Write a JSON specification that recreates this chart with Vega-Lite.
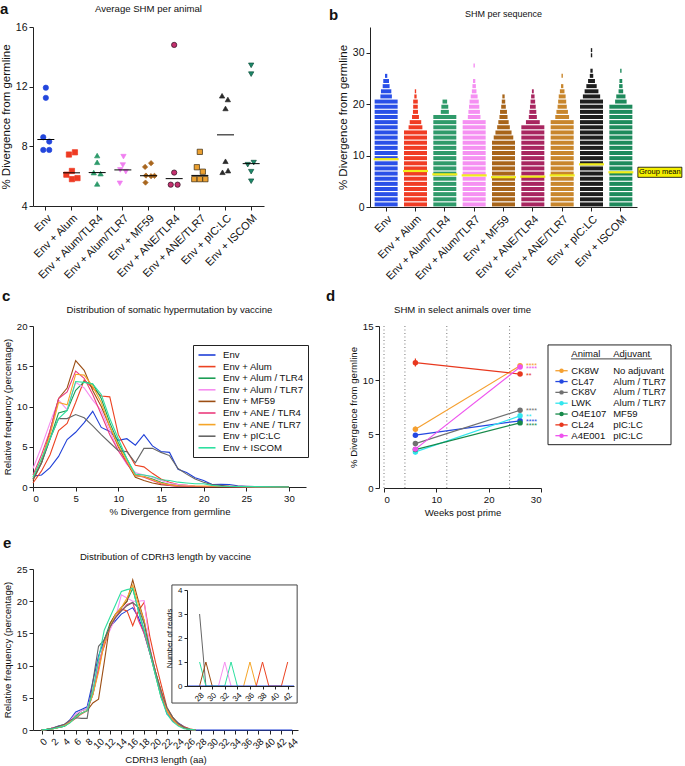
{
"$schema":"https://vega.github.io/schema/vega-lite/v6.json",
"padding":{"left":0,"top":2,"right":0,"bottom":2},
"background":"#ffffff",
"datasets":{
"A":[
{"g":"Env","v":11.93,"s":0},{"g":"Env","v":11.25,"s":0},{"g":"Env","v":8.61,"s":-0.6},{"g":"Env","v":8.32,"s":0.8},{"g":"Env","v":7.76,"s":-0.6},{"g":"Env","v":7.76,"s":0.8},
{"g":"Env + Alum","v":7.45,"s":-0.6},{"g":"Env + Alum","v":7.6,"s":0.8},{"g":"Env + Alum","v":6.35,"s":0.1},{"g":"Env + Alum","v":6.1,"s":-1.2},{"g":"Env + Alum","v":5.8,"s":0.1},{"g":"Env + Alum","v":5.87,"s":1.4},
{"g":"Env + Alum/TLR4","v":7.38,"s":0},{"g":"Env + Alum/TLR4","v":6.93,"s":0},{"g":"Env + Alum/TLR4","v":6.24,"s":-0.8},{"g":"Env + Alum/TLR4","v":6.17,"s":0.8},{"g":"Env + Alum/TLR4","v":5.48,"s":0},
{"g":"Env + Alum/TLR7","v":7.31,"s":0.15},{"g":"Env + Alum/TLR7","v":6.75,"s":0},{"g":"Env + Alum/TLR7","v":6.42,"s":-0.6},{"g":"Env + Alum/TLR7","v":6.3,"s":0.7},{"g":"Env + Alum/TLR7","v":5.52,"s":-0.7},
{"g":"Env + MF59","v":6.87,"s":0.6},{"g":"Env + MF59","v":6.62,"s":-0.8},{"g":"Env + MF59","v":6.04,"s":-0.6},{"g":"Env + MF59","v":6.0,"s":0.6},{"g":"Env + MF59","v":6.02,"s":1.4},{"g":"Env + MF59","v":5.57,"s":-0.7},
{"g":"Env + ANE/TLR4","v":14.8,"s":0},{"g":"Env + ANE/TLR4","v":6.24,"s":0},{"g":"Env + ANE/TLR4","v":5.43,"s":-0.8},{"g":"Env + ANE/TLR4","v":5.43,"s":0.8},
{"g":"Env + ANE/TLR7","v":7.63,"s":0},{"g":"Env + ANE/TLR7","v":6.6,"s":-0.7},{"g":"Env + ANE/TLR7","v":6.3,"s":0.7},{"g":"Env + ANE/TLR7","v":5.8,"s":-1.3},{"g":"Env + ANE/TLR7","v":5.8,"s":0},{"g":"Env + ANE/TLR7","v":5.8,"s":1.3},
{"g":"Env + pIC:LC","v":11.39,"s":-0.8},{"g":"Env + pIC:LC","v":11.14,"s":0.55},{"g":"Env + pIC:LC","v":10.54,"s":0},{"g":"Env + pIC:LC","v":7.0,"s":0},{"g":"Env + pIC:LC","v":6.26,"s":-0.7},{"g":"Env + pIC:LC","v":6.37,"s":0.6},
{"g":"Env + ISCOM","v":13.43,"s":0},{"g":"Env + ISCOM","v":12.84,"s":0},{"g":"Env + ISCOM","v":6.77,"s":-0.8},{"g":"Env + ISCOM","v":6.91,"s":0.6},{"g":"Env + ISCOM","v":6.3,"s":0},{"g":"Env + ISCOM","v":5.66,"s":0}
],
"B":[
{"g":"Env","y":0.5,"n":1},{"g":"Env","y":1.5,"n":1},{"g":"Env","y":2.5,"n":1},{"g":"Env","y":3.5,"n":1},{"g":"Env","y":4.5,"n":1},{"g":"Env","y":5.5,"n":1},{"g":"Env","y":6.5,"n":1},{"g":"Env","y":7.5,"n":1},{"g":"Env","y":8.5,"n":1},{"g":"Env","y":9.5,"n":1},{"g":"Env","y":10.5,"n":1},{"g":"Env","y":11.5,"n":1},{"g":"Env","y":12.5,"n":1},{"g":"Env","y":13.5,"n":1},{"g":"Env","y":14.5,"n":1},{"g":"Env","y":15.5,"n":1},{"g":"Env","y":16.5,"n":1},{"g":"Env","y":17.5,"n":1},{"g":"Env","y":18.5,"n":1},{"g":"Env","y":19.5,"n":1},{"g":"Env","y":20.5,"n":1},{"g":"Env","y":21.5,"n":0.5},{"g":"Env","y":22.5,"n":0.45},{"g":"Env","y":23.5,"n":0.3},{"g":"Env","y":24.5,"n":0.25},{"g":"Env","y":25.5,"n":0.1},
{"g":"Env + Alum","y":0.5,"n":1},{"g":"Env + Alum","y":1.5,"n":1},{"g":"Env + Alum","y":2.5,"n":1},{"g":"Env + Alum","y":3.5,"n":1},{"g":"Env + Alum","y":4.5,"n":1},{"g":"Env + Alum","y":5.5,"n":1},{"g":"Env + Alum","y":6.5,"n":1},{"g":"Env + Alum","y":7.5,"n":1},{"g":"Env + Alum","y":8.5,"n":1},{"g":"Env + Alum","y":9.5,"n":1},{"g":"Env + Alum","y":10.5,"n":1},{"g":"Env + Alum","y":11.5,"n":1},{"g":"Env + Alum","y":12.5,"n":1},{"g":"Env + Alum","y":13.5,"n":1},{"g":"Env + Alum","y":14.5,"n":1},{"g":"Env + Alum","y":15.5,"n":0.6},{"g":"Env + Alum","y":16.5,"n":0.5},{"g":"Env + Alum","y":17.5,"n":0.3},{"g":"Env + Alum","y":18.5,"n":0.22},{"g":"Env + Alum","y":19.5,"n":0.2},{"g":"Env + Alum","y":20.5,"n":0.2},{"g":"Env + Alum","y":21.5,"n":0.1},{"g":"Env + Alum","y":22.5,"n":0.06},
{"g":"Env + Alum/TLR4","y":0.5,"n":1},{"g":"Env + Alum/TLR4","y":1.5,"n":1},{"g":"Env + Alum/TLR4","y":2.5,"n":1},{"g":"Env + Alum/TLR4","y":3.5,"n":1},{"g":"Env + Alum/TLR4","y":4.5,"n":1},{"g":"Env + Alum/TLR4","y":5.5,"n":1},{"g":"Env + Alum/TLR4","y":6.5,"n":1},{"g":"Env + Alum/TLR4","y":7.5,"n":1},{"g":"Env + Alum/TLR4","y":8.5,"n":1},{"g":"Env + Alum/TLR4","y":9.5,"n":1},{"g":"Env + Alum/TLR4","y":10.5,"n":1},{"g":"Env + Alum/TLR4","y":11.5,"n":1},{"g":"Env + Alum/TLR4","y":12.5,"n":1},{"g":"Env + Alum/TLR4","y":13.5,"n":1},{"g":"Env + Alum/TLR4","y":14.5,"n":1},{"g":"Env + Alum/TLR4","y":15.5,"n":1},{"g":"Env + Alum/TLR4","y":16.5,"n":1},{"g":"Env + Alum/TLR4","y":17.5,"n":1},{"g":"Env + Alum/TLR4","y":18.5,"n":0.35},{"g":"Env + Alum/TLR4","y":19.5,"n":0.3},{"g":"Env + Alum/TLR4","y":20.5,"n":0.2},
{"g":"Env + Alum/TLR7","y":0.5,"n":1},{"g":"Env + Alum/TLR7","y":1.5,"n":1},{"g":"Env + Alum/TLR7","y":2.5,"n":1},{"g":"Env + Alum/TLR7","y":3.5,"n":1},{"g":"Env + Alum/TLR7","y":4.5,"n":1},{"g":"Env + Alum/TLR7","y":5.5,"n":1},{"g":"Env + Alum/TLR7","y":6.5,"n":1},{"g":"Env + Alum/TLR7","y":7.5,"n":1},{"g":"Env + Alum/TLR7","y":8.5,"n":1},{"g":"Env + Alum/TLR7","y":9.5,"n":1},{"g":"Env + Alum/TLR7","y":10.5,"n":1},{"g":"Env + Alum/TLR7","y":11.5,"n":1},{"g":"Env + Alum/TLR7","y":12.5,"n":1},{"g":"Env + Alum/TLR7","y":13.5,"n":1},{"g":"Env + Alum/TLR7","y":14.5,"n":1},{"g":"Env + Alum/TLR7","y":15.5,"n":1},{"g":"Env + Alum/TLR7","y":16.5,"n":1},{"g":"Env + Alum/TLR7","y":17.5,"n":0.55},{"g":"Env + Alum/TLR7","y":18.5,"n":0.5},{"g":"Env + Alum/TLR7","y":19.5,"n":0.45},{"g":"Env + Alum/TLR7","y":20.5,"n":0.4},{"g":"Env + Alum/TLR7","y":21.5,"n":0.3},{"g":"Env + Alum/TLR7","y":22.5,"n":0.2},{"g":"Env + Alum/TLR7","y":23.5,"n":0.15},{"g":"Env + Alum/TLR7","y":24.5,"n":0.1},{"g":"Env + Alum/TLR7","y":27.5,"n":0.06},
{"g":"Env + MF59","y":0.5,"n":1},{"g":"Env + MF59","y":1.5,"n":1},{"g":"Env + MF59","y":2.5,"n":1},{"g":"Env + MF59","y":3.5,"n":1},{"g":"Env + MF59","y":4.5,"n":1},{"g":"Env + MF59","y":5.5,"n":1},{"g":"Env + MF59","y":6.5,"n":1},{"g":"Env + MF59","y":7.5,"n":1},{"g":"Env + MF59","y":8.5,"n":1},{"g":"Env + MF59","y":9.5,"n":1},{"g":"Env + MF59","y":10.5,"n":1},{"g":"Env + MF59","y":11.5,"n":1},{"g":"Env + MF59","y":12.5,"n":1},{"g":"Env + MF59","y":13.5,"n":0.85},{"g":"Env + MF59","y":14.5,"n":0.7},{"g":"Env + MF59","y":15.5,"n":0.55},{"g":"Env + MF59","y":16.5,"n":0.45},{"g":"Env + MF59","y":17.5,"n":0.35},{"g":"Env + MF59","y":18.5,"n":0.3},{"g":"Env + MF59","y":19.5,"n":0.2},{"g":"Env + MF59","y":20.5,"n":0.15},{"g":"Env + MF59","y":21.5,"n":0.1},
{"g":"Env + ANE/TLR4","y":0.5,"n":1},{"g":"Env + ANE/TLR4","y":1.5,"n":1},{"g":"Env + ANE/TLR4","y":2.5,"n":1},{"g":"Env + ANE/TLR4","y":3.5,"n":1},{"g":"Env + ANE/TLR4","y":4.5,"n":1},{"g":"Env + ANE/TLR4","y":5.5,"n":1},{"g":"Env + ANE/TLR4","y":6.5,"n":1},{"g":"Env + ANE/TLR4","y":7.5,"n":1},{"g":"Env + ANE/TLR4","y":8.5,"n":1},{"g":"Env + ANE/TLR4","y":9.5,"n":1},{"g":"Env + ANE/TLR4","y":10.5,"n":1},{"g":"Env + ANE/TLR4","y":11.5,"n":1},{"g":"Env + ANE/TLR4","y":12.5,"n":1},{"g":"Env + ANE/TLR4","y":13.5,"n":1},{"g":"Env + ANE/TLR4","y":14.5,"n":1},{"g":"Env + ANE/TLR4","y":15.5,"n":1},{"g":"Env + ANE/TLR4","y":16.5,"n":0.6},{"g":"Env + ANE/TLR4","y":17.5,"n":0.35},{"g":"Env + ANE/TLR4","y":18.5,"n":0.3},{"g":"Env + ANE/TLR4","y":19.5,"n":0.25},{"g":"Env + ANE/TLR4","y":20.5,"n":0.2},{"g":"Env + ANE/TLR4","y":21.5,"n":0.15},{"g":"Env + ANE/TLR4","y":22.5,"n":0.08},
{"g":"Env + ANE/TLR7","y":0.5,"n":1},{"g":"Env + ANE/TLR7","y":1.5,"n":1},{"g":"Env + ANE/TLR7","y":2.5,"n":1},{"g":"Env + ANE/TLR7","y":3.5,"n":1},{"g":"Env + ANE/TLR7","y":4.5,"n":1},{"g":"Env + ANE/TLR7","y":5.5,"n":1},{"g":"Env + ANE/TLR7","y":6.5,"n":1},{"g":"Env + ANE/TLR7","y":7.5,"n":1},{"g":"Env + ANE/TLR7","y":8.5,"n":1},{"g":"Env + ANE/TLR7","y":9.5,"n":1},{"g":"Env + ANE/TLR7","y":10.5,"n":1},{"g":"Env + ANE/TLR7","y":11.5,"n":1},{"g":"Env + ANE/TLR7","y":12.5,"n":1},{"g":"Env + ANE/TLR7","y":13.5,"n":1},{"g":"Env + ANE/TLR7","y":14.5,"n":1},{"g":"Env + ANE/TLR7","y":15.5,"n":1},{"g":"Env + ANE/TLR7","y":16.5,"n":1},{"g":"Env + ANE/TLR7","y":17.5,"n":0.6},{"g":"Env + ANE/TLR7","y":18.5,"n":0.5},{"g":"Env + ANE/TLR7","y":19.5,"n":0.4},{"g":"Env + ANE/TLR7","y":20.5,"n":0.35},{"g":"Env + ANE/TLR7","y":21.5,"n":0.3},{"g":"Env + ANE/TLR7","y":22.5,"n":0.2},{"g":"Env + ANE/TLR7","y":23.5,"n":0.1},{"g":"Env + ANE/TLR7","y":25.5,"n":0.06},
{"g":"Env + pIC:LC","y":0.5,"n":1},{"g":"Env + pIC:LC","y":1.5,"n":1},{"g":"Env + pIC:LC","y":2.5,"n":1},{"g":"Env + pIC:LC","y":3.5,"n":1},{"g":"Env + pIC:LC","y":4.5,"n":1},{"g":"Env + pIC:LC","y":5.5,"n":1},{"g":"Env + pIC:LC","y":6.5,"n":1},{"g":"Env + pIC:LC","y":7.5,"n":1},{"g":"Env + pIC:LC","y":8.5,"n":1},{"g":"Env + pIC:LC","y":9.5,"n":1},{"g":"Env + pIC:LC","y":10.5,"n":1},{"g":"Env + pIC:LC","y":11.5,"n":1},{"g":"Env + pIC:LC","y":12.5,"n":1},{"g":"Env + pIC:LC","y":13.5,"n":1},{"g":"Env + pIC:LC","y":14.5,"n":1},{"g":"Env + pIC:LC","y":15.5,"n":1},{"g":"Env + pIC:LC","y":16.5,"n":1},{"g":"Env + pIC:LC","y":17.5,"n":1},{"g":"Env + pIC:LC","y":18.5,"n":1},{"g":"Env + pIC:LC","y":19.5,"n":1},{"g":"Env + pIC:LC","y":20.5,"n":1},{"g":"Env + pIC:LC","y":21.5,"n":0.75},{"g":"Env + pIC:LC","y":22.5,"n":0.6},{"g":"Env + pIC:LC","y":23.5,"n":0.45},{"g":"Env + pIC:LC","y":24.5,"n":0.3},{"g":"Env + pIC:LC","y":25.5,"n":0.15},{"g":"Env + pIC:LC","y":26.5,"n":0.1},{"g":"Env + pIC:LC","y":29.5,"n":0.06},{"g":"Env + pIC:LC","y":30.5,"n":0.06},
{"g":"Env + ISCOM","y":0.5,"n":1},{"g":"Env + ISCOM","y":1.5,"n":1},{"g":"Env + ISCOM","y":2.5,"n":1},{"g":"Env + ISCOM","y":3.5,"n":1},{"g":"Env + ISCOM","y":4.5,"n":1},{"g":"Env + ISCOM","y":5.5,"n":1},{"g":"Env + ISCOM","y":6.5,"n":1},{"g":"Env + ISCOM","y":7.5,"n":1},{"g":"Env + ISCOM","y":8.5,"n":1},{"g":"Env + ISCOM","y":9.5,"n":1},{"g":"Env + ISCOM","y":10.5,"n":1},{"g":"Env + ISCOM","y":11.5,"n":1},{"g":"Env + ISCOM","y":12.5,"n":1},{"g":"Env + ISCOM","y":13.5,"n":1},{"g":"Env + ISCOM","y":14.5,"n":1},{"g":"Env + ISCOM","y":15.5,"n":1},{"g":"Env + ISCOM","y":16.5,"n":1},{"g":"Env + ISCOM","y":17.5,"n":1},{"g":"Env + ISCOM","y":18.5,"n":1},{"g":"Env + ISCOM","y":19.5,"n":1},{"g":"Env + ISCOM","y":20.5,"n":0.5},{"g":"Env + ISCOM","y":21.5,"n":0.4},{"g":"Env + ISCOM","y":22.5,"n":0.2},{"g":"Env + ISCOM","y":23.5,"n":0.15},{"g":"Env + ISCOM","y":24.5,"n":0.12},{"g":"Env + ISCOM","y":26.5,"n":0.06}
],
"BM":[{"g":"Env","m":9.3},{"g":"Env + Alum","m":7.0},{"g":"Env + Alum/TLR4","m":6.35},{"g":"Env + Alum/TLR7","m":6.15},{"g":"Env + MF59","m":5.8},{"g":"Env + ANE/TLR4","m":5.9},{"g":"Env + ANE/TLR7","m":6.15},{"g":"Env + pIC:LC","m":8.3},{"g":"Env + ISCOM","m":6.75}],
"BG":[{"g":"Env + ISCOM","y":6.75,"t":"Group mean"}],
"C":[
{"g":"Env","x":0,"f":1.35},{"g":"Env","x":1,"f":1.5},{"g":"Env","x":2,"f":2.4},{"g":"Env","x":3,"f":3.8},{"g":"Env","x":4,"f":5.9},{"g":"Env","x":5,"f":6.8},{"g":"Env","x":6,"f":8.0},{"g":"Env","x":7,"f":9.4},{"g":"Env","x":8,"f":7.4},{"g":"Env","x":9,"f":6.9},{"g":"Env","x":10,"f":5.8},{"g":"Env","x":11,"f":6.0},{"g":"Env","x":12,"f":5.2},{"g":"Env","x":13,"f":6.5},{"g":"Env","x":14,"f":5.1},{"g":"Env","x":15,"f":4.4},{"g":"Env","x":16,"f":4.3},{"g":"Env","x":17,"f":2.2},{"g":"Env","x":18,"f":1.8},{"g":"Env","x":19,"f":1.15},{"g":"Env","x":20,"f":0.8},{"g":"Env","x":21,"f":0.3},{"g":"Env","x":22,"f":0.35},{"g":"Env","x":23,"f":0.3},{"g":"Env","x":24,"f":0.15},{"g":"Env","x":25,"f":0.1},{"g":"Env","x":26,"f":0.05},{"g":"Env","x":30,"f":0},
{"g":"Env + Alum","x":0,"f":0.5},{"g":"Env + Alum","x":1,"f":2.0},{"g":"Env + Alum","x":2,"f":4.0},{"g":"Env + Alum","x":3,"f":7.0},{"g":"Env + Alum","x":4,"f":7.9},{"g":"Env + Alum","x":5,"f":10.5},{"g":"Env + Alum","x":6,"f":13.3},{"g":"Env + Alum","x":7,"f":12.3},{"g":"Env + Alum","x":8,"f":11.3},{"g":"Env + Alum","x":9,"f":11.2},{"g":"Env + Alum","x":10,"f":6.5},{"g":"Env + Alum","x":11,"f":4.5},{"g":"Env + Alum","x":12,"f":2.7},{"g":"Env + Alum","x":13,"f":2.5},{"g":"Env + Alum","x":14,"f":1.7},{"g":"Env + Alum","x":15,"f":1.0},{"g":"Env + Alum","x":16,"f":0.6},{"g":"Env + Alum","x":17,"f":0.3},{"g":"Env + Alum","x":18,"f":0.2},{"g":"Env + Alum","x":19,"f":0.1},{"g":"Env + Alum","x":20,"f":0.05},{"g":"Env + Alum","x":30,"f":0},
{"g":"Env + Alum / TLR4","x":0,"f":1.0},{"g":"Env + Alum / TLR4","x":1,"f":3.0},{"g":"Env + Alum / TLR4","x":2,"f":6.0},{"g":"Env + Alum / TLR4","x":3,"f":9.2},{"g":"Env + Alum / TLR4","x":4,"f":9.5},{"g":"Env + Alum / TLR4","x":5,"f":12.0},{"g":"Env + Alum / TLR4","x":6,"f":13.1},{"g":"Env + Alum / TLR4","x":7,"f":12.8},{"g":"Env + Alum / TLR4","x":8,"f":11.0},{"g":"Env + Alum / TLR4","x":9,"f":8.0},{"g":"Env + Alum / TLR4","x":10,"f":5.5},{"g":"Env + Alum / TLR4","x":11,"f":3.5},{"g":"Env + Alum / TLR4","x":12,"f":1.4},{"g":"Env + Alum / TLR4","x":13,"f":1.3},{"g":"Env + Alum / TLR4","x":14,"f":1.0},{"g":"Env + Alum / TLR4","x":15,"f":0.6},{"g":"Env + Alum / TLR4","x":16,"f":0.3},{"g":"Env + Alum / TLR4","x":17,"f":0.2},{"g":"Env + Alum / TLR4","x":18,"f":0.1},{"g":"Env + Alum / TLR4","x":30,"f":0},
{"g":"Env + Alum / TLR7","x":0,"f":2.3},{"g":"Env + Alum / TLR7","x":1,"f":5.0},{"g":"Env + Alum / TLR7","x":2,"f":8.0},{"g":"Env + Alum / TLR7","x":3,"f":10.8},{"g":"Env + Alum / TLR7","x":4,"f":9.6},{"g":"Env + Alum / TLR7","x":5,"f":13.0},{"g":"Env + Alum / TLR7","x":6,"f":12.3},{"g":"Env + Alum / TLR7","x":7,"f":10.8},{"g":"Env + Alum / TLR7","x":8,"f":9.5},{"g":"Env + Alum / TLR7","x":9,"f":7.0},{"g":"Env + Alum / TLR7","x":10,"f":4.5},{"g":"Env + Alum / TLR7","x":11,"f":2.8},{"g":"Env + Alum / TLR7","x":12,"f":1.8},{"g":"Env + Alum / TLR7","x":13,"f":1.5},{"g":"Env + Alum / TLR7","x":14,"f":1.2},{"g":"Env + Alum / TLR7","x":15,"f":0.8},{"g":"Env + Alum / TLR7","x":16,"f":0.5},{"g":"Env + Alum / TLR7","x":17,"f":0.3},{"g":"Env + Alum / TLR7","x":18,"f":0.2},{"g":"Env + Alum / TLR7","x":19,"f":0.1},{"g":"Env + Alum / TLR7","x":30,"f":0},
{"g":"Env + MF59","x":0,"f":0.8},{"g":"Env + MF59","x":1,"f":3.0},{"g":"Env + MF59","x":2,"f":7.0},{"g":"Env + MF59","x":3,"f":11.0},{"g":"Env + MF59","x":4,"f":12.3},{"g":"Env + MF59","x":5,"f":15.7},{"g":"Env + MF59","x":6,"f":14.5},{"g":"Env + MF59","x":7,"f":12.0},{"g":"Env + MF59","x":8,"f":10.0},{"g":"Env + MF59","x":9,"f":7.5},{"g":"Env + MF59","x":10,"f":5.0},{"g":"Env + MF59","x":11,"f":3.0},{"g":"Env + MF59","x":12,"f":1.2},{"g":"Env + MF59","x":13,"f":0.8},{"g":"Env + MF59","x":14,"f":0.5},{"g":"Env + MF59","x":15,"f":0.3},{"g":"Env + MF59","x":16,"f":0.2},{"g":"Env + MF59","x":17,"f":0.1},{"g":"Env + MF59","x":30,"f":0},
{"g":"Env + ANE / TLR4","x":0,"f":1.5},{"g":"Env + ANE / TLR4","x":1,"f":4.0},{"g":"Env + ANE / TLR4","x":2,"f":7.0},{"g":"Env + ANE / TLR4","x":3,"f":11.0},{"g":"Env + ANE / TLR4","x":4,"f":11.8},{"g":"Env + ANE / TLR4","x":5,"f":14.4},{"g":"Env + ANE / TLR4","x":6,"f":13.5},{"g":"Env + ANE / TLR4","x":7,"f":11.5},{"g":"Env + ANE / TLR4","x":8,"f":9.0},{"g":"Env + ANE / TLR4","x":9,"f":6.5},{"g":"Env + ANE / TLR4","x":10,"f":4.5},{"g":"Env + ANE / TLR4","x":11,"f":3.0},{"g":"Env + ANE / TLR4","x":12,"f":1.5},{"g":"Env + ANE / TLR4","x":13,"f":1.2},{"g":"Env + ANE / TLR4","x":14,"f":0.8},{"g":"Env + ANE / TLR4","x":15,"f":0.4},{"g":"Env + ANE / TLR4","x":16,"f":0.2},{"g":"Env + ANE / TLR4","x":17,"f":0.1},{"g":"Env + ANE / TLR4","x":30,"f":0},
{"g":"Env + ANE / TLR7","x":0,"f":1.2},{"g":"Env + ANE / TLR7","x":1,"f":3.5},{"g":"Env + ANE / TLR7","x":2,"f":6.5},{"g":"Env + ANE / TLR7","x":3,"f":10.5},{"g":"Env + ANE / TLR7","x":4,"f":10.2},{"g":"Env + ANE / TLR7","x":5,"f":14.0},{"g":"Env + ANE / TLR7","x":6,"f":13.9},{"g":"Env + ANE / TLR7","x":7,"f":12.5},{"g":"Env + ANE / TLR7","x":8,"f":10.5},{"g":"Env + ANE / TLR7","x":9,"f":7.5},{"g":"Env + ANE / TLR7","x":10,"f":5.2},{"g":"Env + ANE / TLR7","x":11,"f":3.2},{"g":"Env + ANE / TLR7","x":12,"f":1.4},{"g":"Env + ANE / TLR7","x":13,"f":1.3},{"g":"Env + ANE / TLR7","x":14,"f":0.9},{"g":"Env + ANE / TLR7","x":15,"f":0.5},{"g":"Env + ANE / TLR7","x":16,"f":0.3},{"g":"Env + ANE / TLR7","x":17,"f":0.15},{"g":"Env + ANE / TLR7","x":30,"f":0},
{"g":"Env + pIC:LC","x":0,"f":1.0},{"g":"Env + pIC:LC","x":1,"f":3.0},{"g":"Env + pIC:LC","x":2,"f":6.0},{"g":"Env + pIC:LC","x":3,"f":8.5},{"g":"Env + pIC:LC","x":4,"f":8.5},{"g":"Env + pIC:LC","x":5,"f":9.0},{"g":"Env + pIC:LC","x":6,"f":8.6},{"g":"Env + pIC:LC","x":7,"f":7.6},{"g":"Env + pIC:LC","x":8,"f":6.5},{"g":"Env + pIC:LC","x":9,"f":5.5},{"g":"Env + pIC:LC","x":10,"f":4.5},{"g":"Env + pIC:LC","x":11,"f":4.4},{"g":"Env + pIC:LC","x":12,"f":3.0},{"g":"Env + pIC:LC","x":13,"f":4.8},{"g":"Env + pIC:LC","x":14,"f":4.8},{"g":"Env + pIC:LC","x":15,"f":4.3},{"g":"Env + pIC:LC","x":16,"f":3.9},{"g":"Env + pIC:LC","x":17,"f":2.3},{"g":"Env + pIC:LC","x":18,"f":1.6},{"g":"Env + pIC:LC","x":19,"f":1.0},{"g":"Env + pIC:LC","x":20,"f":0.6},{"g":"Env + pIC:LC","x":21,"f":0.3},{"g":"Env + pIC:LC","x":22,"f":0.2},{"g":"Env + pIC:LC","x":23,"f":0.1},{"g":"Env + pIC:LC","x":30,"f":0},
{"g":"Env + ISCOM","x":0,"f":1.2},{"g":"Env + ISCOM","x":1,"f":3.5},{"g":"Env + ISCOM","x":2,"f":6.0},{"g":"Env + ISCOM","x":3,"f":8.5},{"g":"Env + ISCOM","x":4,"f":9.5},{"g":"Env + ISCOM","x":5,"f":13.1},{"g":"Env + ISCOM","x":6,"f":13.0},{"g":"Env + ISCOM","x":7,"f":12.8},{"g":"Env + ISCOM","x":8,"f":11.5},{"g":"Env + ISCOM","x":9,"f":8.5},{"g":"Env + ISCOM","x":10,"f":6.0},{"g":"Env + ISCOM","x":11,"f":3.5},{"g":"Env + ISCOM","x":12,"f":1.6},{"g":"Env + ISCOM","x":13,"f":1.5},{"g":"Env + ISCOM","x":14,"f":1.3},{"g":"Env + ISCOM","x":15,"f":0.9},{"g":"Env + ISCOM","x":16,"f":0.8},{"g":"Env + ISCOM","x":17,"f":0.6},{"g":"Env + ISCOM","x":18,"f":0.5},{"g":"Env + ISCOM","x":19,"f":0.4},{"g":"Env + ISCOM","x":20,"f":0.4},{"g":"Env + ISCOM","x":21,"f":0.2},{"g":"Env + ISCOM","x":22,"f":0.1},{"g":"Env + ISCOM","x":30,"f":0}
],
"D":[
{"a":"CK8W","w":6,"v":5.44,"lo":5.2,"hi":5.7},{"a":"CK8W","w":26,"v":11.32,"lo":11.2,"hi":11.45},
{"a":"CL47","w":6,"v":4.89,"lo":4.7,"hi":5.05},{"a":"CL47","w":26,"v":6.22,"lo":6.1,"hi":6.35},
{"a":"CK8V","w":6,"v":4.11,"lo":4.0,"hi":4.22},{"a":"CK8V","w":26,"v":7.2,"lo":7.1,"hi":7.3},
{"a":"LWK","w":6,"v":3.34,"lo":3.1,"hi":3.55},{"a":"LWK","w":26,"v":6.68,"lo":6.55,"hi":6.8},
{"a":"O4E107","w":6,"v":3.56,"lo":3.45,"hi":3.67},{"a":"O4E107","w":26,"v":6.03,"lo":5.95,"hi":6.1},
{"a":"CL24","w":6,"v":11.6,"lo":11.25,"hi":12.0},{"a":"CL24","w":26,"v":10.55,"lo":10.45,"hi":10.65},
{"a":"A4E001","w":6,"v":3.6,"lo":3.45,"hi":3.75},{"a":"A4E001","w":26,"v":11.2,"lo":11.05,"hi":11.35}
],
"DR":[{"w":0},{"w":4},{"w":12},{"w":24}],
"DS":[{"a":"CK8W","y":11.32,"t":"****"},{"a":"A4E001","y":10.98,"t":"****"},{"a":"CL24","y":10.4,"t":"**"},{"a":"CK8V","y":7.14,"t":"****"},{"a":"LWK","y":6.6,"t":"**"},{"a":"CL47","y":6.12,"t":"****"},{"a":"O4E107","y":5.75,"t":"****"}],
"DL":[{"a":"Animal","adj":"Adjuvant"},{"a":"CK8W","adj":"No adjuvant"},{"a":"CL47","adj":"Alum / TLR7"},{"a":"CK8V","adj":"Alum / TLR7"},{"a":"LWK","adj":"Alum / TLR7"},{"a":"O4E107","adj":"MF59"},{"a":"CL24","adj":"pIC:LC"},{"a":"A4E001","adj":"pIC:LC"}],
"E":[
{"g":"Env","x":0,"f":0},{"g":"Env","x":1,"f":0.1},{"g":"Env","x":2,"f":0.3},{"g":"Env","x":3,"f":0.6},{"g":"Env","x":4,"f":0.8},{"g":"Env","x":5,"f":1.6},{"g":"Env","x":6,"f":2.8},{"g":"Env","x":7,"f":3.2},{"g":"Env","x":8,"f":3.6},{"g":"Env","x":9,"f":7.5},{"g":"Env","x":10,"f":11.5},{"g":"Env","x":11,"f":14},{"g":"Env","x":12,"f":16},{"g":"Env","x":13,"f":17},{"g":"Env","x":14,"f":18},{"g":"Env","x":15,"f":18.5},{"g":"Env","x":16,"f":19},{"g":"Env","x":17,"f":17.5},{"g":"Env","x":18,"f":15},{"g":"Env","x":19,"f":12},{"g":"Env","x":20,"f":9},{"g":"Env","x":21,"f":5.5},{"g":"Env","x":22,"f":2.5},{"g":"Env","x":23,"f":1.8},{"g":"Env","x":24,"f":1.1},{"g":"Env","x":25,"f":0.5},{"g":"Env","x":26,"f":0.1},{"g":"Env","x":27,"f":0},{"g":"Env","x":44,"f":0},
{"g":"Env + Alum","x":0,"f":0},{"g":"Env + Alum","x":1,"f":0.1},{"g":"Env + Alum","x":2,"f":0.3},{"g":"Env + Alum","x":3,"f":0.5},{"g":"Env + Alum","x":4,"f":0.7},{"g":"Env + Alum","x":5,"f":1.2},{"g":"Env + Alum","x":6,"f":1.8},{"g":"Env + Alum","x":7,"f":2.5},{"g":"Env + Alum","x":8,"f":3},{"g":"Env + Alum","x":9,"f":6},{"g":"Env + Alum","x":10,"f":10.5},{"g":"Env + Alum","x":11,"f":13},{"g":"Env + Alum","x":12,"f":16},{"g":"Env + Alum","x":13,"f":17.5},{"g":"Env + Alum","x":14,"f":18.8},{"g":"Env + Alum","x":15,"f":18.5},{"g":"Env + Alum","x":16,"f":16.2},{"g":"Env + Alum","x":17,"f":18.5},{"g":"Env + Alum","x":18,"f":19.8},{"g":"Env + Alum","x":19,"f":14.5},{"g":"Env + Alum","x":20,"f":10.5},{"g":"Env + Alum","x":21,"f":7},{"g":"Env + Alum","x":22,"f":3.5},{"g":"Env + Alum","x":23,"f":2},{"g":"Env + Alum","x":24,"f":1},{"g":"Env + Alum","x":25,"f":0.5},{"g":"Env + Alum","x":26,"f":0.2},{"g":"Env + Alum","x":27,"f":0},
{"g":"Env + Alum / TLR4","x":0,"f":0},{"g":"Env + Alum / TLR4","x":1,"f":0.1},{"g":"Env + Alum / TLR4","x":2,"f":0.2},{"g":"Env + Alum / TLR4","x":3,"f":0.4},{"g":"Env + Alum / TLR4","x":4,"f":0.6},{"g":"Env + Alum / TLR4","x":5,"f":1.3},{"g":"Env + Alum / TLR4","x":6,"f":2.2},{"g":"Env + Alum / TLR4","x":7,"f":3},{"g":"Env + Alum / TLR4","x":8,"f":3.3},{"g":"Env + Alum / TLR4","x":9,"f":5.5},{"g":"Env + Alum / TLR4","x":10,"f":9.5},{"g":"Env + Alum / TLR4","x":11,"f":14},{"g":"Env + Alum / TLR4","x":12,"f":16.5},{"g":"Env + Alum / TLR4","x":13,"f":18},{"g":"Env + Alum / TLR4","x":14,"f":19},{"g":"Env + Alum / TLR4","x":15,"f":20},{"g":"Env + Alum / TLR4","x":16,"f":22},{"g":"Env + Alum / TLR4","x":17,"f":18.5},{"g":"Env + Alum / TLR4","x":18,"f":15.5},{"g":"Env + Alum / TLR4","x":19,"f":12},{"g":"Env + Alum / TLR4","x":20,"f":8.5},{"g":"Env + Alum / TLR4","x":21,"f":5},{"g":"Env + Alum / TLR4","x":22,"f":3},{"g":"Env + Alum / TLR4","x":23,"f":1.5},{"g":"Env + Alum / TLR4","x":24,"f":0.8},{"g":"Env + Alum / TLR4","x":25,"f":0.3},{"g":"Env + Alum / TLR4","x":26,"f":0.1},{"g":"Env + Alum / TLR4","x":27,"f":0},
{"g":"Env + Alum / TLR7","x":0,"f":0},{"g":"Env + Alum / TLR7","x":1,"f":0.1},{"g":"Env + Alum / TLR7","x":2,"f":0.3},{"g":"Env + Alum / TLR7","x":3,"f":0.5},{"g":"Env + Alum / TLR7","x":4,"f":0.8},{"g":"Env + Alum / TLR7","x":5,"f":1.5},{"g":"Env + Alum / TLR7","x":6,"f":2.5},{"g":"Env + Alum / TLR7","x":7,"f":3},{"g":"Env + Alum / TLR7","x":8,"f":3.3},{"g":"Env + Alum / TLR7","x":9,"f":6},{"g":"Env + Alum / TLR7","x":10,"f":10},{"g":"Env + Alum / TLR7","x":11,"f":13.5},{"g":"Env + Alum / TLR7","x":12,"f":15.5},{"g":"Env + Alum / TLR7","x":13,"f":17.5},{"g":"Env + Alum / TLR7","x":14,"f":21},{"g":"Env + Alum / TLR7","x":15,"f":20.5},{"g":"Env + Alum / TLR7","x":16,"f":20},{"g":"Env + Alum / TLR7","x":17,"f":20},{"g":"Env + Alum / TLR7","x":18,"f":20.1},{"g":"Env + Alum / TLR7","x":19,"f":13},{"g":"Env + Alum / TLR7","x":20,"f":9},{"g":"Env + Alum / TLR7","x":21,"f":6},{"g":"Env + Alum / TLR7","x":22,"f":3},{"g":"Env + Alum / TLR7","x":23,"f":1.6},{"g":"Env + Alum / TLR7","x":24,"f":0.8},{"g":"Env + Alum / TLR7","x":25,"f":0.3},{"g":"Env + Alum / TLR7","x":26,"f":0.1},{"g":"Env + Alum / TLR7","x":27,"f":0},
{"g":"Env + MF59","x":0,"f":0},{"g":"Env + MF59","x":1,"f":0.1},{"g":"Env + MF59","x":2,"f":0.2},{"g":"Env + MF59","x":3,"f":0.4},{"g":"Env + MF59","x":4,"f":0.6},{"g":"Env + MF59","x":5,"f":1.2},{"g":"Env + MF59","x":6,"f":2},{"g":"Env + MF59","x":7,"f":2.6},{"g":"Env + MF59","x":8,"f":3},{"g":"Env + MF59","x":9,"f":4.2},{"g":"Env + MF59","x":10,"f":4.8},{"g":"Env + MF59","x":11,"f":10.5},{"g":"Env + MF59","x":12,"f":16.5},{"g":"Env + MF59","x":13,"f":18},{"g":"Env + MF59","x":14,"f":19},{"g":"Env + MF59","x":15,"f":20},{"g":"Env + MF59","x":16,"f":23.3},{"g":"Env + MF59","x":17,"f":20},{"g":"Env + MF59","x":18,"f":17},{"g":"Env + MF59","x":19,"f":12.5},{"g":"Env + MF59","x":20,"f":9},{"g":"Env + MF59","x":21,"f":6},{"g":"Env + MF59","x":22,"f":3},{"g":"Env + MF59","x":23,"f":1.8},{"g":"Env + MF59","x":24,"f":0.8},{"g":"Env + MF59","x":25,"f":0.3},{"g":"Env + MF59","x":26,"f":0.1},{"g":"Env + MF59","x":27,"f":0},
{"g":"Env + ANE / TLR4","x":0,"f":0},{"g":"Env + ANE / TLR4","x":1,"f":0.1},{"g":"Env + ANE / TLR4","x":2,"f":0.3},{"g":"Env + ANE / TLR4","x":3,"f":0.5},{"g":"Env + ANE / TLR4","x":4,"f":0.8},{"g":"Env + ANE / TLR4","x":5,"f":1.3},{"g":"Env + ANE / TLR4","x":6,"f":2},{"g":"Env + ANE / TLR4","x":7,"f":2.6},{"g":"Env + ANE / TLR4","x":8,"f":3},{"g":"Env + ANE / TLR4","x":9,"f":5.5},{"g":"Env + ANE / TLR4","x":10,"f":9.5},{"g":"Env + ANE / TLR4","x":11,"f":13.5},{"g":"Env + ANE / TLR4","x":12,"f":16},{"g":"Env + ANE / TLR4","x":13,"f":17.5},{"g":"Env + ANE / TLR4","x":14,"f":18.5},{"g":"Env + ANE / TLR4","x":15,"f":19.5},{"g":"Env + ANE / TLR4","x":16,"f":19.8},{"g":"Env + ANE / TLR4","x":17,"f":17},{"g":"Env + ANE / TLR4","x":18,"f":15},{"g":"Env + ANE / TLR4","x":19,"f":12},{"g":"Env + ANE / TLR4","x":20,"f":8.8},{"g":"Env + ANE / TLR4","x":21,"f":5.5},{"g":"Env + ANE / TLR4","x":22,"f":3},{"g":"Env + ANE / TLR4","x":23,"f":1.5},{"g":"Env + ANE / TLR4","x":24,"f":0.8},{"g":"Env + ANE / TLR4","x":25,"f":0.3},{"g":"Env + ANE / TLR4","x":26,"f":0.1},{"g":"Env + ANE / TLR4","x":27,"f":0},
{"g":"Env + ANE / TLR7","x":0,"f":0},{"g":"Env + ANE / TLR7","x":1,"f":0.1},{"g":"Env + ANE / TLR7","x":2,"f":0.2},{"g":"Env + ANE / TLR7","x":3,"f":0.4},{"g":"Env + ANE / TLR7","x":4,"f":0.7},{"g":"Env + ANE / TLR7","x":5,"f":1.2},{"g":"Env + ANE / TLR7","x":6,"f":2},{"g":"Env + ANE / TLR7","x":7,"f":2.6},{"g":"Env + ANE / TLR7","x":8,"f":3},{"g":"Env + ANE / TLR7","x":9,"f":5.5},{"g":"Env + ANE / TLR7","x":10,"f":9},{"g":"Env + ANE / TLR7","x":11,"f":13.5},{"g":"Env + ANE / TLR7","x":12,"f":16},{"g":"Env + ANE / TLR7","x":13,"f":18},{"g":"Env + ANE / TLR7","x":14,"f":19},{"g":"Env + ANE / TLR7","x":15,"f":20.5},{"g":"Env + ANE / TLR7","x":16,"f":22.5},{"g":"Env + ANE / TLR7","x":17,"f":19.5},{"g":"Env + ANE / TLR7","x":18,"f":17},{"g":"Env + ANE / TLR7","x":19,"f":12.5},{"g":"Env + ANE / TLR7","x":20,"f":9},{"g":"Env + ANE / TLR7","x":21,"f":6},{"g":"Env + ANE / TLR7","x":22,"f":3},{"g":"Env + ANE / TLR7","x":23,"f":1.7},{"g":"Env + ANE / TLR7","x":24,"f":0.8},{"g":"Env + ANE / TLR7","x":25,"f":0.3},{"g":"Env + ANE / TLR7","x":26,"f":0.1},{"g":"Env + ANE / TLR7","x":27,"f":0},
{"g":"Env + pIC:LC","x":0,"f":0},{"g":"Env + pIC:LC","x":1,"f":0.1},{"g":"Env + pIC:LC","x":2,"f":0.3},{"g":"Env + pIC:LC","x":3,"f":0.6},{"g":"Env + pIC:LC","x":4,"f":0.9},{"g":"Env + pIC:LC","x":5,"f":1.5},{"g":"Env + pIC:LC","x":6,"f":1.9},{"g":"Env + pIC:LC","x":7,"f":1.8},{"g":"Env + pIC:LC","x":8,"f":1.8},{"g":"Env + pIC:LC","x":9,"f":7.5},{"g":"Env + pIC:LC","x":10,"f":13},{"g":"Env + pIC:LC","x":11,"f":14},{"g":"Env + pIC:LC","x":12,"f":16},{"g":"Env + pIC:LC","x":13,"f":17.5},{"g":"Env + pIC:LC","x":14,"f":18.5},{"g":"Env + pIC:LC","x":15,"f":19.3},{"g":"Env + pIC:LC","x":16,"f":19.8},{"g":"Env + pIC:LC","x":17,"f":19},{"g":"Env + pIC:LC","x":18,"f":16.5},{"g":"Env + pIC:LC","x":19,"f":12.5},{"g":"Env + pIC:LC","x":20,"f":9},{"g":"Env + pIC:LC","x":21,"f":6},{"g":"Env + pIC:LC","x":22,"f":3.5},{"g":"Env + pIC:LC","x":23,"f":2},{"g":"Env + pIC:LC","x":24,"f":1},{"g":"Env + pIC:LC","x":25,"f":0.4},{"g":"Env + pIC:LC","x":26,"f":0.1},{"g":"Env + pIC:LC","x":27,"f":0},
{"g":"Env + ISCOM","x":0,"f":0},{"g":"Env + ISCOM","x":1,"f":0.1},{"g":"Env + ISCOM","x":2,"f":0.2},{"g":"Env + ISCOM","x":3,"f":0.4},{"g":"Env + ISCOM","x":4,"f":0.6},{"g":"Env + ISCOM","x":5,"f":1.1},{"g":"Env + ISCOM","x":6,"f":2},{"g":"Env + ISCOM","x":7,"f":2.6},{"g":"Env + ISCOM","x":8,"f":3},{"g":"Env + ISCOM","x":9,"f":6},{"g":"Env + ISCOM","x":10,"f":11},{"g":"Env + ISCOM","x":11,"f":15.5},{"g":"Env + ISCOM","x":12,"f":17.5},{"g":"Env + ISCOM","x":13,"f":19.5},{"g":"Env + ISCOM","x":14,"f":21.5},{"g":"Env + ISCOM","x":15,"f":21.8},{"g":"Env + ISCOM","x":16,"f":22},{"g":"Env + ISCOM","x":17,"f":18.5},{"g":"Env + ISCOM","x":18,"f":15.5},{"g":"Env + ISCOM","x":19,"f":12},{"g":"Env + ISCOM","x":20,"f":8.5},{"g":"Env + ISCOM","x":21,"f":5},{"g":"Env + ISCOM","x":22,"f":2.5},{"g":"Env + ISCOM","x":23,"f":1.3},{"g":"Env + ISCOM","x":24,"f":0.6},{"g":"Env + ISCOM","x":25,"f":0.2},{"g":"Env + ISCOM","x":26,"f":0.1},{"g":"Env + ISCOM","x":27,"f":0}
],
"EI":[
{"g":"Env + pIC:LC","x":28,"n":3},{"g":"Env + pIC:LC","x":29,"n":0},
{"g":"Env + ISCOM","x":28,"n":1},{"g":"Env + ISCOM","x":29,"n":0},{"g":"Env + ISCOM","x":32,"n":0},{"g":"Env + ISCOM","x":33,"n":1},{"g":"Env + ISCOM","x":34,"n":0},
{"g":"Env + MF59","x":28,"n":0},{"g":"Env + MF59","x":29,"n":1},{"g":"Env + MF59","x":30,"n":0},
{"g":"Env + Alum / TLR7","x":31,"n":0},{"g":"Env + Alum / TLR7","x":32,"n":1},{"g":"Env + Alum / TLR7","x":33,"n":0},
{"g":"Env + ANE / TLR7","x":35,"n":0},{"g":"Env + ANE / TLR7","x":36,"n":1},{"g":"Env + ANE / TLR7","x":37,"n":0},
{"g":"Env + Alum","x":37,"n":0},{"g":"Env + Alum","x":38,"n":1},{"g":"Env + Alum","x":39,"n":0},{"g":"Env + Alum","x":41,"n":0},{"g":"Env + Alum","x":42,"n":1},
{"g":"Env","x":26,"n":0},{"g":"Env","x":43,"n":0}
]
},
"vconcat":[
{"vconcat":[
 {"hconcat":[
  {"title":{"text":"a","anchor":"start","frame":"group","fontSize":15,"fontWeight":"bold","offset":0,"dy":13,"dx":-33},
   "vconcat":[{
    "width":231,"height":179,
    "title":{"text":"Average SHM per animal","fontSize":9.6,"offset":8},
    "data":{"name":"A"},
    "encoding":{"x":{"field":"g","type":"nominal","sort":["Env","Env + Alum","Env + Alum/TLR4","Env + Alum/TLR7","Env + MF59","Env + ANE/TLR4","Env + ANE/TLR7","Env + pIC:LC","Env + ISCOM"],"scale":{"type":"band","paddingInner":0,"paddingOuter":0},"axis":{"title":null,"labelAngle":-45,"labelFontSize":11,"tickSize":4}}},
    "layer":[
     {"mark":{"type":"point","filled":true,"size":28,"strokeWidth":0.7,"opacity":1},
      "encoding":{
       "y":{"field":"v","type":"quantitative","scale":{"domain":[4,16]},"axis":{"values":[4,8,12,16],"title":"% Divergence from germline","labelFontSize":10.5,"titleFontSize":11.5}},
       "xOffset":{"field":"s","type":"quantitative","scale":{"domain":[-3,3]}},
       "shape":{"field":"g","type":"nominal","scale":{"domain":["Env","Env + Alum","Env + Alum/TLR4","Env + Alum/TLR7","Env + MF59","Env + ANE/TLR4","Env + ANE/TLR7","Env + pIC:LC","Env + ISCOM"],"range":["circle","square","triangle-up","triangle-down","diamond","circle","square","triangle-up","triangle-down"]},"legend":null},
       "fill":{"field":"g","type":"nominal","scale":{"domain":["Env","Env + Alum","Env + Alum/TLR4","Env + Alum/TLR7","Env + MF59","Env + ANE/TLR4","Env + ANE/TLR7","Env + pIC:LC","Env + ISCOM"],"range":["#2346dc","#ee3a22","#2c9a6a","#f07ff0","#a8661e","#c4306e","#eba030","#2a2a2a","#1c8a6a"]},"legend":null},
       "stroke":{"field":"g","type":"nominal","scale":{"domain":["Env","Env + Alum","Env + Alum/TLR4","Env + Alum/TLR7","Env + MF59","Env + ANE/TLR4","Env + ANE/TLR7","Env + pIC:LC","Env + ISCOM"],"range":["#2346dc","#ee3a22","#2c9a6a","#f07ff0","#a8661e","#2a1020","#3a2a10","#2a2a2a","#10503c"]},"legend":null}}},
     {"mark":{"type":"tick","orient":"horizontal","color":"#000","thickness":1,"size":17},
      "encoding":{"y":{"aggregate":"median","field":"v","type":"quantitative"}}}
    ]
   }],
   "resolve":{"scale":{"color":"independent","fill":"independent","stroke":"independent","shape":"independent","size":"independent"}}
  },
  {"title":{"text":"b","anchor":"start","frame":"group","fontSize":15,"fontWeight":"bold","offset":0,"dy":13,"dx":-41},
   "vconcat":[{
    "width":267,"height":180,
    "title":{"text":"SHM per sequence","fontSize":9,"offset":8},
    "encoding":{"x":{"field":"g","type":"nominal","sort":["Env","Env + Alum","Env + Alum/TLR4","Env + Alum/TLR7","Env + MF59","Env + ANE/TLR4","Env + ANE/TLR7","Env + pIC:LC","Env + ISCOM"],"scale":{"type":"band","paddingInner":0,"paddingOuter":0.05},"axis":{"title":null,"labelAngle":-45,"labelFontSize":11,"tickSize":4}}},
    "layer":[
     {"data":{"name":"B"},"mark":{"type":"tick","orient":"horizontal","thickness":4,"opacity":1},
      "encoding":{
       "y":{"field":"y","type":"quantitative","scale":{"domain":[0,35]},"axis":{"values":[0,5,10,15,20,25,30,35],"labelOverlap":false,"title":"% Divergence from germline","labelFontSize":10.5,"titleFontSize":11.5}},
       "size":{"field":"n","type":"quantitative","scale":{"domain":[0,1],"range":[0,23]},"legend":null},
       "color":{"field":"g","type":"nominal","scale":{"domain":["Env","Env + Alum","Env + Alum/TLR4","Env + Alum/TLR7","Env + MF59","Env + ANE/TLR4","Env + ANE/TLR7","Env + pIC:LC","Env + ISCOM"],"range":["#2a50e8","#f03c24","#2f9a6a","#f590f2","#a8651a","#a82660","#c8862c","#1e1e1e","#1e8a5c"]},"legend":null}}},
     {"data":{"name":"BM"},"mark":{"type":"tick","orient":"horizontal","thickness":2.2,"size":25,"color":"#f2ee1a","opacity":1},
      "encoding":{"y":{"field":"m","type":"quantitative"}}},
     {"data":{"name":"BG"},"mark":{"type":"point","shape":"M-1,-0.23H1V0.23H-1Z","size":1936,"filled":true,"color":"#f5f000","stroke":"#000","strokeWidth":0.8,"xOffset":39,"opacity":1},
      "encoding":{"y":{"field":"y","type":"quantitative"}}},
     {"data":{"name":"BG"},"mark":{"type":"text","fontSize":7.5,"xOffset":39,"align":"center","baseline":"middle","color":"#000"},
      "encoding":{"y":{"field":"y","type":"quantitative"},"text":{"field":"t"}}}
    ]
   }],
   "resolve":{"scale":{"color":"independent","size":"independent"}}
  }
 ],"spacing":65,
 "resolve":{"scale":{"color":"independent","fill":"independent","stroke":"independent","shape":"independent","size":"independent"}}},
 {"hconcat":[
  {"title":{"text":"c","anchor":"start","frame":"group","fontSize":15,"fontWeight":"bold","offset":1,"dx":-31},
   "vconcat":[{
    "width":273,"height":161,
    "title":{"text":"Distribution of somatic hypermutation by vaccine","fontSize":9.6,"offset":6},
    "data":{"name":"C"},
    "mark":{"type":"line","strokeWidth":1.1},
    "encoding":{
     "x":{"field":"x","type":"quantitative","scale":{"domain":[0,32],"nice":false},"axis":{"values":[0,5,10,15,20,25,30],"title":"% Divergence from germline"}},
     "y":{"field":"f","type":"quantitative","scale":{"domain":[0,20],"nice":false},"axis":{"values":[0,5,10,15,20],"title":"Relative frequency (percentage)"}},
     "color":{"field":"g","type":"nominal","scale":{"domain":["Env","Env + Alum","Env + Alum / TLR4","Env + Alum / TLR7","Env + MF59","Env + ANE / TLR4","Env + ANE / TLR7","Env + pIC:LC","Env + ISCOM"],"range":["#2040d8","#ec4322","#1c9e55","#f68ef0","#9c4e14","#ec3c7e","#f5a528","#666666","#2ee0a0"]},
      "legend":{"title":null,"orient":"none","legendX":160,"legendY":19,"strokeColor":"#222","padding":4,"symbolType":"M-1.7,0H1.7","symbolStrokeWidth":1.6,"symbolSize":100,"labelFontSize":9.6,"rowPadding":0.6,"labelOffset":10,"symbolOffset":4,"fillColor":"#fff"}}
    }
   }],
   "resolve":{"scale":{"color":"independent"}}
  },
  {"title":{"text":"d","anchor":"start","frame":"group","fontSize":15,"fontWeight":"bold","offset":1,"dx":-58},
   "vconcat":[{
    "hconcat":[
     {"width":157,"height":162,
      "title":{"text":"SHM in select animals over time","fontSize":9.6,"offset":6},
      "layer":[
       {"data":{"name":"DR"},"mark":{"type":"rule","strokeDash":[1,2.5],"color":"#777","strokeWidth":1},
        "encoding":{"x":{"field":"w","type":"quantitative","scale":{"domain":[0,30],"nice":false},"axis":{"values":[0,10,20,30],"title":"Weeks post prime"}}}},
       {"data":{"name":"D"},"mark":{"type":"line","strokeWidth":1.2},
        "encoding":{"x":{"field":"w","type":"quantitative"},"y":{"field":"v","type":"quantitative","scale":{"domain":[0,15],"nice":false},"axis":{"values":[0,5,10,15],"title":"% Divergence from germline","offset":5}},
         "color":{"field":"a","type":"nominal","scale":{"domain":["CK8W","CL47","CK8V","LWK","O4E107","CL24","A4E001"],"range":["#f5a030","#2448e0","#707070","#33e6ee","#178a4a","#e8381e","#ee52ee"]},"legend":null}}},
       {"data":{"name":"D"},"mark":{"type":"rule","strokeWidth":1.2},
        "encoding":{"x":{"field":"w","type":"quantitative"},"y":{"field":"lo","type":"quantitative"},"y2":{"field":"hi"},"color":{"field":"a","type":"nominal","legend":null}}},
       {"data":{"name":"D"},"mark":{"type":"point","filled":true,"size":30,"opacity":1},
        "encoding":{"x":{"field":"w","type":"quantitative"},"y":{"field":"v","type":"quantitative"},"color":{"field":"a","type":"nominal","legend":null}}},
       {"data":{"name":"DS"},"mark":{"type":"text","align":"left","baseline":"middle","dx":6,"fontSize":7},
        "encoding":{"x":{"datum":26,"type":"quantitative"},"y":{"field":"y","type":"quantitative"},"text":{"field":"t"},"color":{"field":"a","type":"nominal","legend":null}}}
      ]},
     {"width":123,"height":119,
      "data":{"name":"DL"},
      "transform":[{"window":[{"op":"row_number","as":"i"}]}],
      "encoding":{"y":{"field":"i","type":"quantitative","scale":{"domain":[-2.13,8.86],"reverse":true,"nice":false,"zero":false},"axis":null}},
      "layer":[
       {"transform":[{"filter":"datum.i == 1"}],"mark":{"type":"rect","fill":"#fff","fillOpacity":0,"stroke":"#222","strokeWidth":1},
        "encoding":{"x":{"datum":0,"type":"quantitative","scale":{"domain":[0,10],"nice":false,"zero":false},"axis":null},"x2":{"datum":10},"y":{"datum":-0.38,"type":"quantitative"},"y2":{"datum":8.83}}},
       {"transform":[{"filter":"datum.i > 1"}],"mark":{"type":"rule","strokeWidth":1.3},
        "encoding":{"x":{"datum":0.6,"type":"quantitative"},"x2":{"datum":1.6},
         "color":{"field":"a","type":"nominal","scale":{"domain":["CK8W","CL47","CK8V","LWK","O4E107","CL24","A4E001"],"range":["#f5a030","#2448e0","#707070","#33e6ee","#178a4a","#e8381e","#ee52ee"]},"legend":null}}},
       {"transform":[{"filter":"datum.i > 1"}],"mark":{"type":"point","filled":true,"size":20,"opacity":1},
        "encoding":{"x":{"datum":1.1,"type":"quantitative"},"color":{"field":"a","type":"nominal","legend":null}}},
       {"transform":[{"filter":"datum.i > 1"}],"mark":{"type":"text","align":"left","baseline":"middle","fontSize":9.5,"color":"#111"},
        "encoding":{"x":{"datum":1.9,"type":"quantitative"},"text":{"field":"a"}}},
       {"transform":[{"filter":"datum.i > 1"}],"mark":{"type":"text","align":"left","baseline":"middle","fontSize":9.5,"color":"#111"},
        "encoding":{"x":{"datum":5.3,"type":"quantitative"},"text":{"field":"adj"}}},
       {"transform":[{"filter":"datum.i == 1"}],"mark":{"type":"text","align":"left","baseline":"middle","fontSize":9.5,"dy":-6,"color":"#111"},
        "encoding":{"x":{"datum":1.9,"type":"quantitative"},"text":{"field":"a"}}},
       {"transform":[{"filter":"datum.i == 1"}],"mark":{"type":"text","align":"left","baseline":"middle","fontSize":9.5,"dy":-6,"color":"#111"},
        "encoding":{"x":{"datum":5.3,"type":"quantitative"},"text":{"field":"adj"}}},
       {"transform":[{"filter":"datum.i == 1"}],"mark":{"type":"rule","strokeWidth":0.8,"color":"#111","yOffset":-1},
        "encoding":{"x":{"datum":1.87,"type":"quantitative"},"x2":{"datum":8.45}}}
      ]}
    ],"spacing":5,
    "resolve":{"scale":{"color":"independent","x":"independent","y":"independent"}}
   }],
   "resolve":{"scale":{"color":"independent"}}
  }
 ],"spacing":17,
 "resolve":{"scale":{"color":"independent"}}}
],"spacing":7,
"resolve":{"scale":{"color":"independent","fill":"independent","stroke":"independent","shape":"independent","size":"independent"}}},
{"title":{"text":"e","anchor":"start","frame":"group","fontSize":15,"fontWeight":"bold","offset":1,"dx":-30},
 "vconcat":[{
  "width":265,"height":161,
  "title":{"text":"Distribution of CDRH3 length by vaccine","fontSize":9.6,"offset":2},
  "layer":[
   {"data":{"name":"E"},"mark":{"type":"line","strokeWidth":1.1},
    "encoding":{
     "x":{"field":"x","type":"quantitative","scale":{"domain":[-1.5,45],"nice":false,"zero":false},"axis":{"values":[0,2,4,6,8,10,12,14,16,18,20,22,24,26,28,30,32,34,36,38,40,42,44],"labelAngle":-45,"labelOverlap":false,"title":"CDRH3 length (aa)"}},
     "y":{"field":"f","type":"quantitative","scale":{"domain":[0,25],"nice":false},"axis":{"values":[0,5,10,15,20,25],"title":"Relative frequency (percentage)"}},
     "color":{"field":"g","type":"nominal","scale":{"domain":["Env","Env + Alum","Env + Alum / TLR4","Env + Alum / TLR7","Env + MF59","Env + ANE / TLR4","Env + ANE / TLR7","Env + pIC:LC","Env + ISCOM"],"range":["#2040d8","#ec4322","#1c9e55","#f68ef0","#9c4e14","#ec3c7e","#f5a528","#666666","#2ee0a0"]},"legend":null}}},
   {"layer":[
     {"data":{"values":[{}]},"mark":{"type":"rect","fill":"#fff","stroke":"#444","strokeWidth":1},
      "encoding":{
       "x":{"datum":23.6,"type":"quantitative","scale":{"domain":[26,43],"range":[154,261],"nice":false,"zero":false},"axis":{"orient":"bottom","offset":-44,"zindex":1,"values":[28,30,32,34,36,38,40,42],"labelAngle":-45,"labelFontSize":8,"tickSize":3,"title":null,"labelOverlap":false,"labelSeparation":0}},
       "x2":{"datum":43.5},
       "y":{"datum":-0.71,"type":"quantitative","scale":{"domain":[0,4],"range":[117,21],"nice":false,"zero":false},"axis":{"orient":"left","offset":-154,"zindex":1,"values":[0,1,2,3,4],"labelFontSize":8,"tickSize":3,"title":"Number of reads","titleFontSize":8}},
       "y2":{"datum":4.21}}},
     {"data":{"name":"EI"},"mark":{"type":"line","strokeWidth":1},
      "encoding":{"x":{"field":"x","type":"quantitative","axis":{"orient":"bottom","offset":-44,"zindex":1,"values":[28,30,32,34,36,38,40,42],"labelAngle":-45,"labelFontSize":8,"tickSize":3,"title":null,"labelOverlap":false,"labelSeparation":0}},"y":{"field":"n","type":"quantitative"},"color":{"field":"g","type":"nominal","legend":null}}}
   ]}
  ],
  "resolve":{"scale":{"x":"independent","y":"independent"},"axis":{"x":"independent","y":"independent"}}
 }]
}
],"spacing":18,
"resolve":{"scale":{"color":"independent","fill":"independent","stroke":"independent","shape":"independent","size":"independent"}},
"config":{
 "font":"Liberation Sans",
 "view":{"stroke":null},
 "axis":{"grid":false,"domainColor":"#222","tickColor":"#222","labelColor":"#111","titleColor":"#111","labelFontSize":9.6,"titleFontSize":9.6,"titleFontWeight":"normal","tickSize":4,"labelPadding":2},
 "title":{"fontSize":9.6,"fontWeight":"normal","color":"#111"},
 "legend":{"labelFontSize":9.6,"labelColor":"#111"}
}
}
